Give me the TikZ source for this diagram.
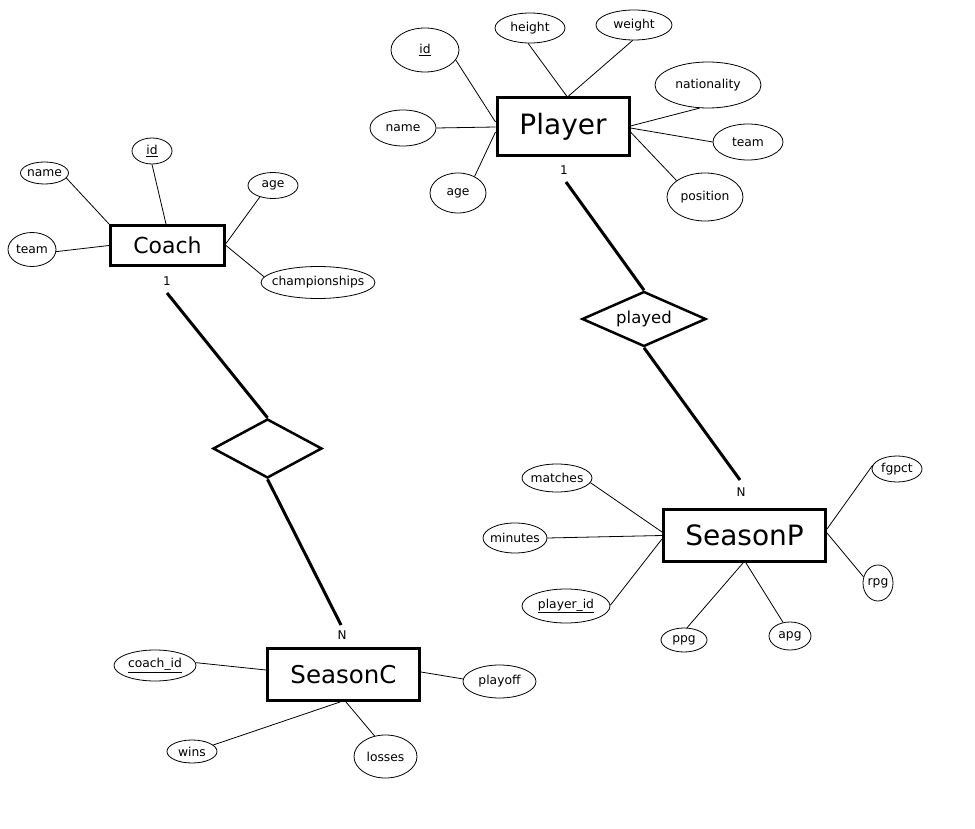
\documentclass[tikz,border=0pt]{standalone}
\usepackage{fontspec}
\setmainfont{DejaVu Sans}
\usetikzlibrary{shapes.geometric}
\newcommand{\attxt}[1]{\makebox[0pt]{#1}}
\tikzset{
  entity/.style={draw, line width=3pt, inner sep=0pt, rectangle},
  attr/.style={draw, ellipse, line width=0.8pt, inner sep=0pt, font=\fontsize{12.3}{14}\selectfont},
  rel/.style={draw, diamond, line width=2.5pt, inner sep=0pt},
  attrline/.style={line width=0.8pt},
  relline/.style={line width=3pt},
  card/.style={inner sep=0pt, font=\fontsize{12}{14}\selectfont}
}
\begin{document}
\begin{tikzpicture}[x=1pt,y=-1pt]
\fill[white] (0,0) rectangle (975,829);
\useasboundingbox (0,0) rectangle (975,829);

% ---------- entities ----------
\node[entity, minimum width=132pt, minimum height=58pt, font=\fontsize{28}{30}\selectfont] (player) at (563,127) {Player};
\node[entity, minimum width=114pt, minimum height=40pt, font=\fontsize{22}{24}\selectfont] (coach) at (167.5,245.5) {Coach};
\node[entity, minimum width=162pt, minimum height=52pt, font=\fontsize{28}{30}\selectfont] (seasonp) at (744.5,535.5) {SeasonP};
\node[entity, minimum width=152pt, minimum height=52pt, font=\fontsize{24.5}{26}\selectfont] (seasonc) at (343.5,674.5) {SeasonC};

% ---------- relationships ----------
\node[rel, aspect=2.2, minimum width=124pt, minimum height=55pt, font=\fontsize{16.5}{18}\selectfont] (played) at (644,319) {played};
\node[rel, aspect=1.85, minimum width=109pt, minimum height=59pt] (coached) at (267.5,448.5) {};

% ---------- Player attributes ----------
\node[attr, minimum width=68pt, minimum height=44pt] (pid) at (425,50) {\attxt{\underline{id}}};
\node[attr, minimum width=70pt, minimum height=30pt] (pheight) at (530,28) {\attxt{height}};
\node[attr, minimum width=76pt, minimum height=30pt] (pweight) at (634,25) {\attxt{weight}};
\node[attr, minimum width=106pt, minimum height=46pt] (pnat) at (708,85) {\attxt{nationality}};
\node[attr, minimum width=70pt, minimum height=36pt] (pteam) at (748,142) {\attxt{team}};
\node[attr, minimum width=76pt, minimum height=48pt] (ppos) at (705,197) {\attxt{position}};
\node[attr, minimum width=66pt, minimum height=36pt] (pname) at (403,128) {\attxt{name}};
\node[attr, minimum width=56pt, minimum height=40pt] (page) at (458,193) {\attxt{age}};

\draw[attrline] (pid.-18) -- ([yshift=5pt]player.west);
\draw[attrline] (pheight.-97) -- ([xshift=4pt]player.north);
\draw[attrline] (pweight.-95) -- ([xshift=5pt]player.north);
\draw[attrline] (pnat.-110) -- ([yshift=1pt]player.east);
\draw[attrline] (pteam.180) -- ([yshift=-1pt]player.east);
\draw[attrline] (ppos.150) -- ([yshift=-5pt]player.east);
\draw[attrline] (pname.0) -- (player.west);
\draw[attrline] (page.45) -- ([yshift=-5pt]player.west);

% ---------- Coach attributes ----------
\node[attr, minimum width=40pt, minimum height=26pt] (cid) at (152,151) {\attxt{\underline{id}}};
\node[attr, minimum width=48pt, minimum height=22pt] (cname) at (44.5,173) {\attxt{name}};
\node[attr, minimum width=48pt, minimum height=34pt] (cteam) at (32,249.5) {\attxt{team}};
\node[attr, minimum width=50pt, minimum height=26pt] (cage) at (273,185.5) {\attxt{age}};
\node[attr, minimum width=114pt, minimum height=32pt] (cchamp) at (318,282.5) {\attxt{championships}};

\draw[attrline] (cid.-90) -- ([xshift=-1.5pt]coach.north);
\draw[attrline] (cname.-13) -- (coach.north west);
\draw[attrline] (cteam.-5) -- (coach.west);
\draw[attrline] (cage.-139) -- ([yshift=2pt]coach.east);
\draw[attrline] (cchamp.174) -- (coach.east);

% ---------- SeasonP attributes ----------
\node[attr, minimum width=70pt, minimum height=28pt] (smatches) at (557,478) {\attxt{matches}};
\node[attr, minimum width=64pt, minimum height=30pt] (sminutes) at (515,538) {\attxt{minutes}};
\node[attr, minimum width=88pt, minimum height=34pt] (spid) at (566,606) {\attxt{\underline{player\_id}}};
\node[attr, minimum width=46pt, minimum height=24pt] (sppg) at (684,640) {\attxt{ppg}};
\node[attr, minimum width=42pt, minimum height=28pt] (sapg) at (790,636) {\attxt{apg}};
\node[attr, minimum width=30pt, minimum height=36pt] (srpg) at (878,583) {\attxt{rpg}};
\node[attr, minimum width=50pt, minimum height=26pt] (sfg) at (897,469) {\attxt{fgpct}};

\draw[attrline] (smatches.-8) -- ([yshift=3.5pt]seasonp.west);
\draw[attrline] (sminutes.0) -- (seasonp.west);
\draw[attrline] (spid.1) -- ([yshift=-3.5pt]seasonp.west);
\draw[attrline] (sppg.76) -- ([xshift=-1.5pt]seasonp.south);
\draw[attrline] (sapg.117) -- ([xshift=1.5pt]seasonp.south);
\draw[attrline] (srpg.157) -- ([yshift=2.5pt]seasonp.east);
\draw[attrline] (sfg.171) -- ([yshift=6.5pt]seasonp.east);

% ---------- SeasonC attributes ----------
\node[attr, minimum width=82pt, minimum height=31pt] (scid) at (155,665.5) {\attxt{\underline{coach\_id}}};
\node[attr, minimum width=73pt, minimum height=33pt] (splayoff) at (499.5,681.5) {\attxt{playoff}};
\node[attr, minimum width=50pt, minimum height=23pt] (swins) at (192,751.5) {\attxt{wins}};
\node[attr, minimum width=63pt, minimum height=43pt] (slosses) at (385.5,756.5) {\attxt{losses}};

\draw[attrline] (scid.4) -- ([yshift=4.5pt]seasonc.west);
\draw[attrline] (splayoff.176) -- ([yshift=2.5pt]seasonc.east);
\draw[attrline] (swins.17) -- ([xshift=-3.5pt]seasonc.south);
\draw[attrline] (slosses.118) -- ([xshift=2.5pt]seasonc.south);

% ---------- cardinalities ----------
\node[card] (pone) at (564,170) {1};
\node[card] (pn) at (741,492) {N};
\node[card] (cone) at (167,281) {1};
\node[card] (cn) at (342,635) {N};

% ---------- relationship lines ----------
\coordinate (pl1) at (566,182);
\coordinate (pln) at (740,480);
\coordinate (co1) at (167,293);
\coordinate (con) at (341,625);
\draw[relline] (pl1) -- (played.north);
\draw[relline] (played.south) -- (pln);
\draw[relline] (co1) -- (coached.north);
\draw[relline] (coached.south) -- (con);
\end{tikzpicture}
\end{document}
